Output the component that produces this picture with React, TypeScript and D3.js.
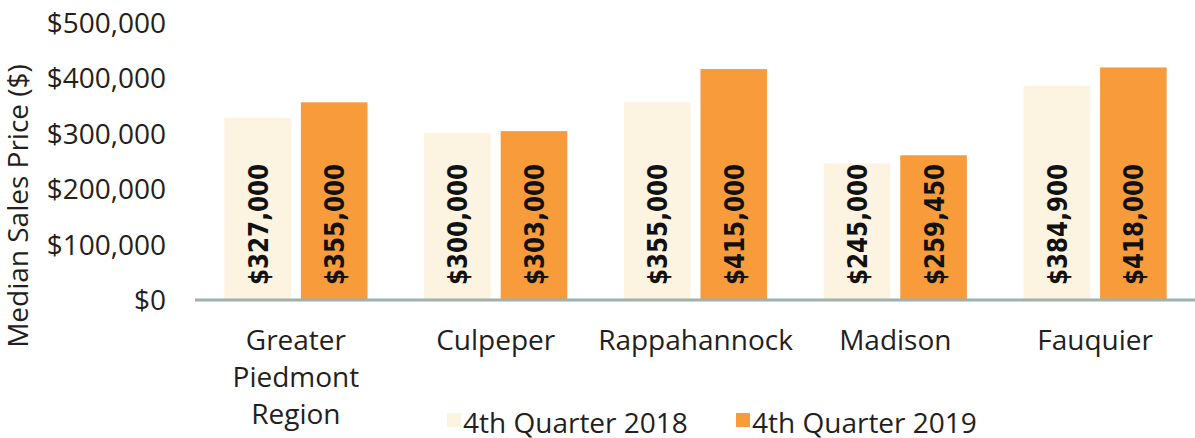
import { useRef, useEffect } from "react";
import * as d3 from "d3";

const categories = [
  ["Greater", "Piedmont", "Region"],
  ["Culpeper"],
  ["Rappahannock"],
  ["Madison"],
  ["Fauquier"],
];
const series = ["4th Quarter 2018", "4th Quarter 2019"];
const values2018 = [327000, 300000, 355000, 245000, 384900];
const values2019 = [355000, 303000, 415000, 259450, 418000];
const yTicks = [0, 100000, 200000, 300000, 400000, 500000];

const colors = ["#FDF3E1", "#F89B3B"];
const font = "'Open Sans', sans-serif";

const App = () => {
  const svgRef = useRef<SVGSVGElement>(null);

  useEffect(() => {
    const svg = d3.select(svgRef.current);
    svg.selectAll("*").remove();

    const width = 1195;
    const height = 438;
    const margin = { top: 22, right: 0, bottom: 139, left: 196 };

    const names = categories.map((c) => c.join(" "));
    const x0 = d3
      .scaleBand()
      .domain(names)
      .range([margin.left, width - margin.right]);
    const x1 = d3
      .scaleBand()
      .domain(series)
      .range([0, x0.bandwidth()])
      .paddingInner(0.13)
      .paddingOuter(0.37);
    const y = d3
      .scaleLinear()
      .domain([0, 500000])
      .range([height - margin.bottom, margin.top]);

    const fmt = d3.format("$,");

    // y tick labels
    svg
      .append("g")
      .selectAll("text")
      .data(yTicks)
      .join("text")
      .attr("x", 166)
      .attr("y", (d) => y(d))
      .attr("text-anchor", "end")
      .attr("dominant-baseline", "central")
      .attr("font-family", font)
      .attr("font-size", 28)
      .attr("fill", "#231F20")
      .text((d) => fmt(d));

    // y title
    svg
      .append("text")
      .attr("transform", `translate(17,${206}) rotate(-90)`)
      .attr("text-anchor", "middle")
      .attr("dominant-baseline", "central")
      .attr("font-family", font)
      .attr("font-size", 28)
      .attr("fill", "#231F20")
      .text("Median Sales Price ($)");

    const data = names.map((n, i) => ({
      name: n,
      vals: [values2018[i], values2019[i]],
    }));

    const groups = svg
      .append("g")
      .selectAll("g")
      .data(data)
      .join("g")
      .attr("transform", (d) => `translate(${x0(d.name)},0)`);

    groups
      .selectAll("rect")
      .data((d) => d.vals.map((v, j) => ({ key: series[j], v, j })))
      .join("rect")
      .attr("x", (d) => x1(d.key)!)
      .attr("y", (d) => y(d.v))
      .attr("width", x1.bandwidth())
      .attr("height", (d) => y(0) - y(d.v))
      .attr("fill", (d) => colors[d.j]);

    groups
      .selectAll("text.val")
      .data((d) => d.vals.map((v, j) => ({ key: series[j], v, j })))
      .join("text")
      .attr("class", "val")
      .attr(
        "transform",
        (d) => `translate(${x1(d.key)! + x1.bandwidth() / 2 + 1},${y(0) - 14}) rotate(-90)`
      )
      .attr("text-anchor", "start")
      .attr("dominant-baseline", "central")
      .attr("font-family", "'DejaVu Sans Condensed', 'DejaVu Sans', sans-serif")
      .attr("font-weight", "bold")
      .attr("font-size", 26)
      .attr("textLength", 121)
      .attr("lengthAdjust", "spacingAndGlyphs")
      .attr("fill", "#111")
      .text((d) => fmt(d.v));

    // baseline
    svg
      .append("line")
      .attr("x1", margin.left - 1)
      .attr("x2", width)
      .attr("y1", y(0) + 1)
      .attr("y2", y(0) + 1)
      .attr("stroke", "#9DB2AE")
      .attr("stroke-width", 3);

    // category labels
    const cat = svg
      .append("g")
      .selectAll("text")
      .data(categories)
      .join("text")
      .attr("x", (d) => x0(d.join(" "))! + x0.bandwidth() / 2)
      .attr("y", 350)
      .attr("text-anchor", "middle")
      .attr("font-family", font)
      .attr("font-size", 28)
      .attr("fill", "#231F20");
    cat
      .selectAll("tspan")
      .data((d) => d)
      .join("tspan")
      .attr("x", function () {
        return (this.parentNode as SVGTextElement).getAttribute("x");
      })
      .attr("dy", (_, i) => (i === 0 ? 0 : 37))
      .text((d) => d);

    // legend
    const legendX = [447, 736];
    const leg = svg
      .append("g")
      .selectAll("g")
      .data(series)
      .join("g")
      .attr("transform", (_, i) => `translate(${legendX[i]},0)`);
    leg
      .append("rect")
      .attr("x", 0)
      .attr("y", 413)
      .attr("width", 14)
      .attr("height", 14)
      .attr("fill", (_, i) => colors[i]);
    leg
      .append("text")
      .attr("x", 16)
      .attr("y", 433)
      .attr("font-family", font)
      .attr("font-size", 28)
      .attr("fill", "#231F20")
      .text((d) => d);
  }, []);

  return (
    <svg
      ref={svgRef}
      width={1195}
      height={438}
      style={{ position: "absolute", left: 0, top: 0, background: "#fff" }}
    />
  );
};

export default App;
